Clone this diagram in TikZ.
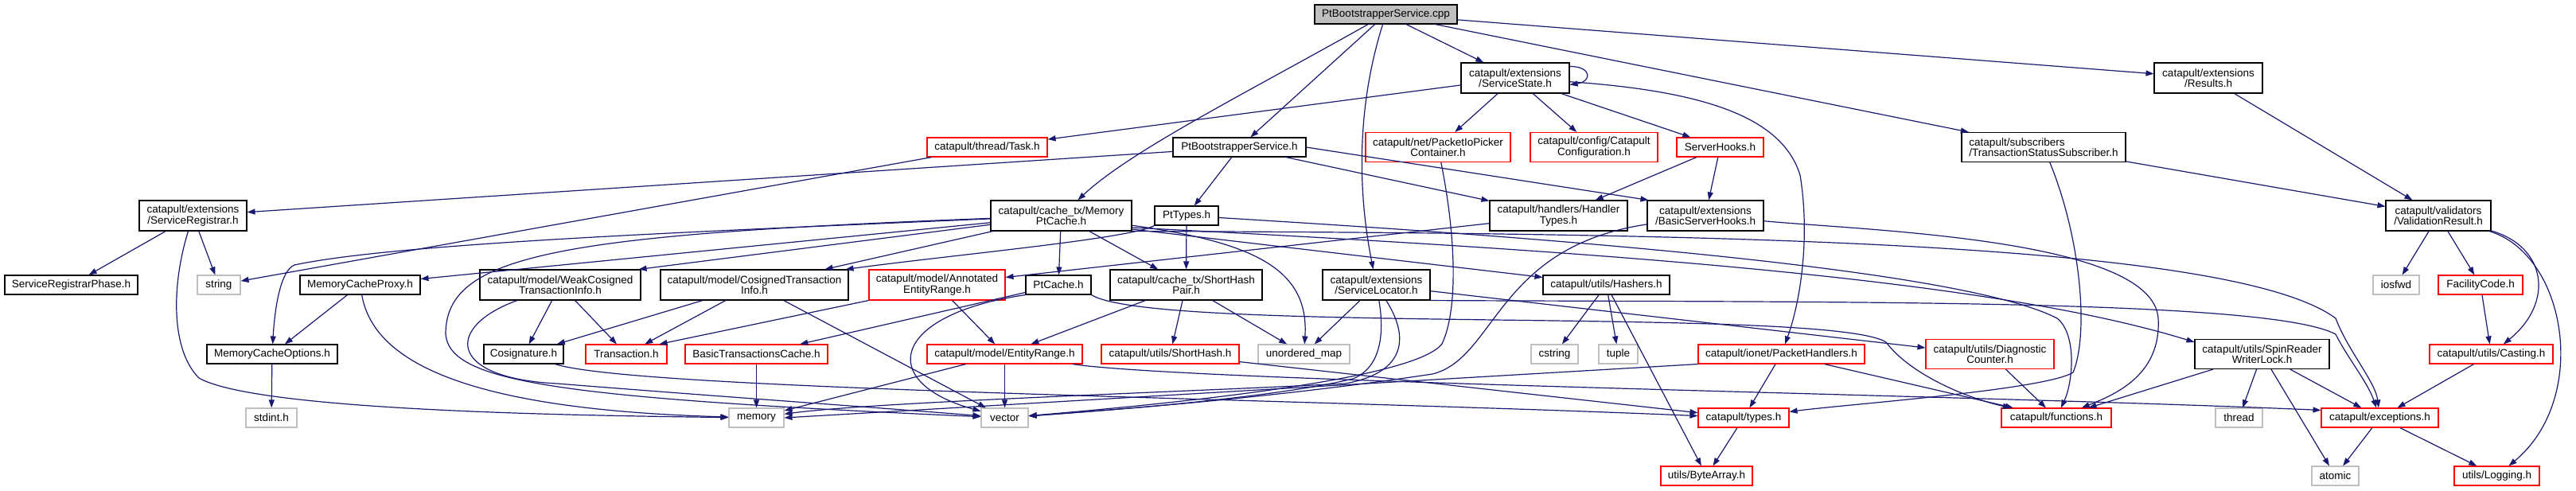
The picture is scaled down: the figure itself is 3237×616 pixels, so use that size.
\documentclass[tikz,border=0pt]{standalone}
\usepackage{fontspec}
\setmainfont{Liberation Sans}
\usetikzlibrary{arrows.meta}
\definecolor{edgeblue}{HTML}{191970}
\definecolor{sysgray}{HTML}{BFBFBF}
\begin{document}
\begin{tikzpicture}[x = 1pt, y = -1pt,
    file/.style = {draw, fill = white, line width = 1.1pt, inner sep = 0pt, align = center,
                   minimum height = 24pt, font = \fontsize{13.5}{13.5}\selectfont},
    trunc/.style = {file, draw = red},
    sys/.style = {file, draw = sysgray},
    root/.style = {file, fill = sysgray},
    inc/.style = {-{Triangle[length = 10pt, width = 7pt]}, draw = edgeblue, line width = 1.2pt}]
  \useasboundingbox (0,0) rectangle (3237,616);

  \node [root, minimum width = 179pt] (cpp) at (1741.5,18) {PtBootstrapperService.cpp};

  \node [file, minimum width = 136pt, minimum height = 38pt] (sstate) at (1904,98) {catapult/extensions\\/ServiceState.h};
  \node [file, minimum width = 136pt, minimum height = 38pt] (results) at (2775,98) {catapult/extensions\\/Results.h};

  \node [trunc, minimum width = 151pt] (task) at (1240.5,185) {catapult/thread/Task.h};
  \node [file, minimum width = 167pt] (ptbsh) at (1557.5,185) {PtBootstrapperService.h};
  \node [trunc, minimum width = 182pt, minimum height = 37pt] (picker) at (1807,185) {catapult/net/PacketIoPicker\\Container.h};
  \node [trunc, minimum width = 160pt, minimum height = 37pt] (config) at (2003,185) {catapult/config/Catapult\\Configuration.h};
  \node [trunc, minimum width = 109pt] (shooks) at (2161.5,185) {ServerHooks.h};
  \node [file, minimum width = 206pt, minimum height = 37pt, align = left] (tss) at (2568,185) {catapult/subscribers\\/TransactionStatusSubscriber.h};

  \node [file, minimum width = 135pt, minimum height = 38pt] (sregistrar) at (242.5,271) {catapult/extensions\\/ServiceRegistrar.h};
  \node [file, minimum width = 177pt, minimum height = 38pt] (mptcache) at (1333.5,271) {catapult/cache\_tx/Memory\\PtCache.h};
  \node [file, minimum width = 80pt] (pttypes) at (1491,271) {PtTypes.h};
  \node [file, minimum width = 173pt, minimum height = 38pt] (htypes) at (1958.5,271) {catapult/handlers/Handler\\Types.h};
  \node [file, minimum width = 146pt, minimum height = 38pt] (bshooks) at (2143,271) {catapult/extensions\\/BasicServerHooks.h};
  \node [file, minimum width = 132pt, minimum height = 38pt] (vresult) at (3064,271) {catapult/validators\\/ValidationResult.h};

  \node [file, minimum width = 167pt] (srphase) at (89.5,358) {ServiceRegistrarPhase.h};
  \node [sys, minimum width = 54pt] (string) at (275,358) {string};
  \node [file, minimum width = 151pt] (mcproxy) at (452.5,358) {MemoryCacheProxy.h};
  \node [file, minimum width = 202pt, minimum height = 38pt] (wcos) at (704,358) {catapult/model/WeakCosigned\\TransactionInfo.h};
  \node [file, minimum width = 236pt, minimum height = 38pt] (cos) at (948,358) {catapult/model/CosignedTransaction\\Info.h};
  \node [trunc, minimum width = 171pt, minimum height = 38pt] (aerange) at (1177.5,358) {catapult/model/Annotated\\EntityRange.h};
  \node [file, minimum width = 82pt] (ptcache) at (1330,358) {PtCache.h};
  \node [file, minimum width = 191pt, minimum height = 38pt] (shpair) at (1490.5,358) {catapult/cache\_tx/ShortHash\\Pair.h};
  \node [file, minimum width = 135pt, minimum height = 38pt] (slocator) at (1729.5,358) {catapult/extensions\\/ServiceLocator.h};
  \node [file, minimum width = 159pt] (hashers) at (2018.5,358) {catapult/utils/Hashers.h};
  \node [sys, minimum width = 58pt] (iosfwd) at (3011,358) {iosfwd};
  \node [trunc, minimum width = 106pt] (facility) at (3117,358) {FacilityCode.h};

  \node [file, minimum width = 164pt] (mcoptions) at (342,445) {MemoryCacheOptions.h};
  \node [file, minimum width = 100pt] (cosig) at (658,445) {Cosignature.h};
  \node [trunc, minimum width = 102pt] (transaction) at (787,445) {Transaction.h};
  \node [trunc, minimum width = 179pt] (btcache) at (950.5,445) {BasicTransactionsCache.h};
  \node [trunc, minimum width = 195pt] (erange) at (1262.5,445) {catapult/model/EntityRange.h};
  \node [trunc, minimum width = 173pt] (shorthash) at (1470.5,445) {catapult/utils/ShortHash.h};
  \node [sys, minimum width = 115pt] (umap) at (1638.5,445) {unordered\_map};
  \node [sys, minimum width = 59pt] (cstring) at (1953.5,445) {cstring};
  \node [sys, minimum width = 49pt] (tuple) at (2033.5,445) {tuple};
  \node [trunc, minimum width = 209pt] (phandlers) at (2238.5,445) {catapult/ionet/PacketHandlers.h};
  \node [trunc, minimum width = 161pt, minimum height = 37pt] (dcounter) at (2500.5,445) {catapult/utils/Diagnostic\\Counter.h};
  \node [file, minimum width = 169pt, minimum height = 37pt] (spinlock) at (2842.5,445) {catapult/utils/SpinReader\\WriterLock.h};
  \node [trunc, minimum width = 155pt] (casting) at (3130.5,445) {catapult/utils/Casting.h};

  \node [sys, minimum width = 64pt] (stdint) at (341,525) {stdint.h};
  \node [sys, minimum width = 69pt] (memory) at (950.5,525) {memory};
  \node [sys, minimum width = 59pt] (vector) at (1262.5,525) {vector};
  \node [trunc, minimum width = 114pt] (types) at (2191,525) {catapult/types.h};
  \node [trunc, minimum width = 138pt] (functions) at (2584,525) {catapult/functions.h};
  \node [sys, minimum width = 59pt] (thread) at (2813.5,525) {thread};
  \node [trunc, minimum width = 147pt] (exceptions) at (2990.5,525) {catapult/exceptions.h};

  \node [trunc, minimum width = 115pt] (bytearray) at (2144.5,598) {utils/ByteArray.h};
  \node [sys, minimum width = 59pt] (atomic) at (2934.5,598) {atomic};
  \node [trunc, minimum width = 107pt] (logging) at (3137.5,598) {utils/Logging.h};

  \draw [inc] (cpp) -- (sstate);
  \draw [inc] (cpp) -- (results);
  \draw [inc] (cpp) -- (tss);
  \draw [inc] (cpp) -- (ptbsh);
  \draw [inc] (cpp) .. controls (1560,120) and (1420,190) .. (mptcache);
  \draw [inc] (cpp) .. controls (1700,150) and (1710,260) .. (slocator);

  \draw [inc] ([yshift = -5pt]sstate.north east) .. controls +(28,0) and +(28,-4) .. ([yshift = -28pt]sstate.north east);
  \draw [inc] (sstate) -- (task);
  \draw [inc] (sstate) -- (picker);
  \draw [inc] (sstate) -- (config);
  \draw [inc] (sstate) -- (shooks);
  \draw [inc] (sstate) .. controls (2150,115) and (2240,150) .. (2262,220) .. controls (2275,300) and (2262,380) .. (phandlers);

  \draw [inc] (results) -- (vresult);
  \draw [inc] (tss) -- (vresult);
  \draw [inc] (tss) .. controls (2615,300) and (2625,420) .. (2605,468) .. controls (2570,490) and (2320,508) .. (types);

  \draw [inc] (task) -- (string);
  \draw [inc] (ptbsh) -- (sregistrar);
  \draw [inc] (ptbsh) -- (pttypes);
  \draw [inc] (ptbsh) -- (htypes);
  \draw [inc] (ptbsh.east) -- ([xshift = 2pt]bshooks.north west);
  \draw [inc] (shooks) -- (htypes);
  \draw [inc] (shooks) -- (bshooks);
  \draw [inc] (picker) .. controls (1830,300) and (1832,390) .. (1812,432) .. controls (1780,475) and (1500,505) .. (vector);

  \draw [inc] (sregistrar) -- (srphase);
  \draw [inc] (sregistrar) -- (string);
  \draw [inc] (sregistrar) .. controls (215,360) and (215,440) .. (250,475) .. controls (320,515) and (700,522) .. (memory);

  \draw [inc] (htypes) -- (aerange);
  \draw [inc] (bshooks) .. controls (2350,290) and (2705,300) .. (2712,400) .. controls (2716,470) and (2660,495) .. (functions);
  \draw [inc] (bshooks) .. controls (1880,310) and (1880,450) .. (1800,470) .. controls (1600,500) and (1400,515) .. (vector);

  \draw [inc] (pttypes) -- (shpair);
  \draw [inc] (pttypes.south west) .. controls (1420,300) and (1200,320) .. ([xshift = -4pt]cos.north east);
  \draw [inc] (pttypes) .. controls (1800,290) and (2450,330) .. (2585,400) .. controls (2610,420) and (2605,480) .. (functions);

  \draw [inc] (mptcache) -- (mcproxy);
  \draw [inc] (mptcache) .. controls (900,290) and (500,305) .. (370,333) .. controls (352,340) and (345,390) .. (mcoptions);
  \draw [inc] (mptcache) -- ([xshift = -3pt]wcos.north east);
  \draw [inc] (mptcache) -- ([xshift = -30pt]cos.north east);
  \draw [inc] (mptcache) -- (ptcache);
  \draw [inc] (mptcache) -- (shpair);
  \draw [inc] (mptcache) .. controls (1580,305) and (1645,340) .. (umap);
  \draw [inc] ([yshift = -17pt]mptcache.east) -- ([yshift = -3pt]hashers.north west);
  \draw [inc] ([yshift = -15pt]mptcache.east) .. controls (2000,315) and (2500,350) .. ([yshift = -4pt]spinlock.north west);
  \draw [inc] (mptcache.south east) .. controls (2100,293) and (2800,300) .. (2935,400) .. controls (2950,440) and (2985,480) .. (exceptions);
  \draw [inc] (mptcache) .. controls (700,295) and (560,320) .. (560,420) .. controls (565,480) and (700,500) .. (vector);

  \draw [inc] (ptcache) -- (btcache);
  \draw [inc] (ptcache.south west) .. controls (1120,395) and (1100,480) .. (vector);
  \draw [inc] (ptcache.south east) .. controls (1450,420) and (2300,385) .. (2370,430) .. controls (2400,470) and (2470,500) .. (functions);
  \draw [inc] (btcache) -- (memory);

  \draw [inc] (slocator) -- (umap);
  \draw [inc] (slocator) .. controls (1740,420) and (1735,462) .. (1700,476) .. controls (1600,500) and (1400,515) .. (vector);
  \draw [inc] (slocator) .. controls (1775,430) and (1760,470) .. (1690,482) .. controls (1500,492) and (1100,505) .. (memory);
  \draw [inc] (slocator) -- ([yshift = 8pt]dcounter.west);
  \draw [inc] (slocator.south east) .. controls (2300,380) and (2850,375) .. (2935,420) .. controls (2950,450) and (2975,480) .. (exceptions);

  \draw [inc] (shpair) -- (erange);
  \draw [inc] (shpair) -- (shorthash);
  \draw [inc] (shpair) -- (umap);
  \draw [inc] (hashers) -- (cstring);
  \draw [inc] (hashers) -- (tuple);
  \draw [inc] (hashers) -- (bytearray);

  \draw [inc] (wcos) -- (cosig);
  \draw [inc] (wcos) -- (transaction);
  \draw [inc] (wcos) .. controls (560,410) and (560,475) .. (700,482) .. controls (900,498) and (1100,512) .. (vector);
  \draw [inc] (cos) -- (cosig);
  \draw [inc] (cos) -- (transaction);
  \draw [inc] (cos) -- (vector);
  \draw [inc] (aerange) -- (erange);
  \draw [inc] (aerange.south west) -- ([xshift = -10pt]transaction.north east);

  \draw [inc] (erange) -- (memory);
  \draw [inc] (erange) -- (vector);
  \draw [inc] (erange) .. controls (1500,480) and (2500,497) .. ([yshift = -3pt]exceptions.north west);
  \draw [inc] (shorthash) -- (types);
  \draw [inc] (cosig) .. controls (800,490) and (1600,500) .. (types);
  \draw [inc] (mcproxy) -- (mcoptions);
  \draw [inc] (mcproxy) .. controls (470,460) and (600,515) .. (memory);
  \draw [inc] (mcoptions) -- (stdint);

  \draw [inc] (phandlers) -- (types);
  \draw [inc] (phandlers) -- (functions);
  \draw [inc] (phandlers.south west) -- (memory.east);
  \draw [inc] (dcounter) -- (functions);
  \draw [inc] (spinlock) -- (functions);
  \draw [inc] (spinlock) -- (thread);
  \draw [inc] (spinlock) -- (exceptions);
  \draw [inc] (spinlock) -- (atomic);

  \draw [inc] (vresult) -- (iosfwd);
  \draw [inc] (vresult) -- (facility);
  \draw [inc] (vresult) .. controls (3200,310) and (3210,380) .. (casting);
  \draw [inc] (vresult) .. controls (3225,320) and (3255,500) .. (logging);
  \draw [inc] (facility) -- (casting);
  \draw [inc] (casting) -- (exceptions);
  \draw [inc] (exceptions) -- (atomic);
  \draw [inc] (exceptions) -- (logging);
  \draw [inc] (types) -- (bytearray);
\end{tikzpicture}
\end{document}
